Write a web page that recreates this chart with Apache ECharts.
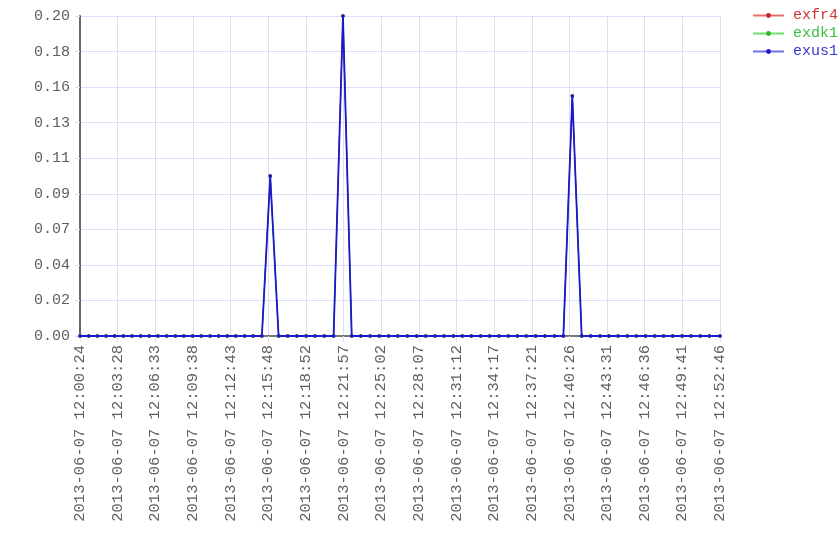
<!DOCTYPE html>
<html>
<head>
<meta charset="utf-8">
<script src="https://cdn.jsdelivr.net/npm/echarts@6/dist/echarts.min.js"></script>
<style>html,body{margin:0;padding:0;background:#fff}#c{width:840px;height:560px}</style>
</head>
<body>
<div id="c"></div>
<script>
const seriesNames = ['exfr4', 'exdk1', 'exus1'];
const seriesColors = ['#cc2222', '#22bb22', '#1a1acc'];
const legendTextColors = ['#d03535', '#3cc03c', '#3a3ad0'];
const legendLineColors = ['#e07070', '#70dd70', '#7070e0'];

const timestamps = [
  '2013-06-07 12:00:24','2013-06-07 12:01:07','2013-06-07 12:01:49','2013-06-07 12:02:32',
  '2013-06-07 12:03:14','2013-06-07 12:03:57','2013-06-07 12:04:39','2013-06-07 12:05:22',
  '2013-06-07 12:06:04','2013-06-07 12:06:47','2013-06-07 12:07:29','2013-06-07 12:08:12',
  '2013-06-07 12:08:54','2013-06-07 12:09:37','2013-06-07 12:10:19','2013-06-07 12:11:02',
  '2013-06-07 12:11:44','2013-06-07 12:12:27','2013-06-07 12:13:09','2013-06-07 12:13:52',
  '2013-06-07 12:14:34','2013-06-07 12:15:17','2013-06-07 12:15:58','2013-06-07 12:16:39',
  '2013-06-07 12:17:24','2013-06-07 12:18:09','2013-06-07 12:18:54','2013-06-07 12:19:38',
  '2013-06-07 12:20:23','2013-06-07 12:21:09','2013-06-07 12:21:55','2013-06-07 12:22:38',
  '2013-06-07 12:23:23','2013-06-07 12:24:08','2013-06-07 12:24:53','2013-06-07 12:25:39',
  '2013-06-07 12:26:24','2013-06-07 12:27:11','2013-06-07 12:27:57','2013-06-07 12:28:41',
  '2013-06-07 12:29:27','2013-06-07 12:30:11','2013-06-07 12:30:57','2013-06-07 12:31:41',
  '2013-06-07 12:32:25','2013-06-07 12:33:11','2013-06-07 12:33:55','2013-06-07 12:34:41',
  '2013-06-07 12:35:27','2013-06-07 12:36:11','2013-06-07 12:36:55','2013-06-07 12:37:41',
  '2013-06-07 12:38:27','2013-06-07 12:39:13','2013-06-07 12:39:57','2013-06-07 12:40:41',
  '2013-06-07 12:41:27','2013-06-07 12:42:11','2013-06-07 12:42:57','2013-06-07 12:43:41',
  '2013-06-07 12:44:25','2013-06-07 12:45:11','2013-06-07 12:45:55','2013-06-07 12:46:41',
  '2013-06-07 12:47:25','2013-06-07 12:48:10','2013-06-07 12:48:54','2013-06-07 12:49:40',
  '2013-06-07 12:50:24','2013-06-07 12:51:09','2013-06-07 12:51:54','2013-06-07 12:52:46'
];

const exus1 = [
  0,0,0,0,0,0,0,0,0,0,0,0,0,0,0,0,0,0,0,0,0,0,
  0.10,0,0,0,0,0,0,0,
  0.20,0,0,0,0,0,0,0,0,0,0,0,0,0,0,0,0,0,0,0,0,0,0,0,0,
  0.15,0,0,0,0,0,0,0,0,0,0,0,0,0,0,0,0
];
const exdk1 = exus1.slice();
const exfr4 = exus1.slice();

const xTickLabels = [
  '2013-06-07 12:00:24','2013-06-07 12:03:28','2013-06-07 12:06:33','2013-06-07 12:09:38',
  '2013-06-07 12:12:43','2013-06-07 12:15:48','2013-06-07 12:18:52','2013-06-07 12:21:57',
  '2013-06-07 12:25:02','2013-06-07 12:28:07','2013-06-07 12:31:12','2013-06-07 12:34:17',
  '2013-06-07 12:37:21','2013-06-07 12:40:26','2013-06-07 12:43:31','2013-06-07 12:46:36',
  '2013-06-07 12:49:41','2013-06-07 12:52:46'
];
const yTickLabels = ['0.00','0.02','0.04','0.07','0.09','0.11','0.13','0.16','0.18','0.20'];

function toSec(s) {
  const t = s.split(' ')[1].split(':').map(Number);
  return t[0] * 3600 + t[1] * 60 + t[2];
}
const base = toSec(timestamps[0]);
const span = toSec(xTickLabels[xTickLabels.length - 1]) - toSec(xTickLabels[0]);
const xInterval = span / (xTickLabels.length - 1);
const yMax = 0.2;
const yInterval = yMax / (yTickLabels.length - 1);

const allValues = [exfr4, exdk1, exus1];
const lineWidths = [1, 1, 1.8];
const FONT = 'Liberation Mono';
const GRID = '#dedef8';

const chart = echarts.init(document.getElementById('c'), null, {renderer: 'canvas'});
chart.setOption({
  animation: false,
  backgroundColor: '#ffffff',
  grid: {left: 80, right: 120, top: 16, bottom: 224, containLabel: false},
  legend: {
    orient: 'vertical',
    left: 747,
    top: 3,
    itemWidth: 31,
    itemHeight: 6,
    itemGap: 3,
    textStyle: {fontFamily: FONT, fontSize: 15, lineHeight: 14, padding: [0, 0, 0, 4]},
    data: seriesNames.map((n, i) => ({
      name: n,
      textStyle: {color: legendTextColors[i]},
      lineStyle: {color: legendLineColors[i], width: 2},
      itemStyle: {color: seriesColors[i]}
    }))
  },
  xAxis: {
    type: 'value',
    min: 0,
    max: span,
    interval: xInterval,
    axisLine: {show: true, onZero: false, lineStyle: {color: '#777777', width: 2}},
    axisTick: {show: true, length: 6, lineStyle: {color: GRID}},
    splitLine: {show: true, lineStyle: {color: GRID, width: 1}},
    axisLabel: {
      rotate: 90,
      margin: 9,
      color: '#606060',
      fontFamily: FONT,
      fontSize: 15.5,
      showMinLabel: true,
      showMaxLabel: true,
      formatter: v => xTickLabels[Math.round(v / xInterval)] || ''
    }
  },
  yAxis: {
    type: 'value',
    min: 0,
    max: yMax,
    interval: yInterval,
    axisLine: {show: true, onZero: false, lineStyle: {color: '#666666', width: 2}},
    axisTick: {show: true, length: 5, lineStyle: {color: GRID}},
    splitLine: {show: true, lineStyle: {color: GRID, width: 1}},
    axisLabel: {
      margin: 10,
      color: '#606060',
      fontFamily: FONT,
      fontSize: 15,
      formatter: v => yTickLabels[Math.round(v / yInterval)] || ''
    }
  },
  series: seriesNames.map((n, i) => ({
    name: n,
    type: 'line',
    data: timestamps.map((t, j) => [toSec(t) - base, allValues[i][j]]),
    symbol: 'circle',
    symbolSize: 3.5,
    showSymbol: true,
    lineStyle: {color: seriesColors[i], width: lineWidths[i]},
    itemStyle: {color: seriesColors[i]},
    z: 2 + i
  }))
});
</script>
</body>
</html>
